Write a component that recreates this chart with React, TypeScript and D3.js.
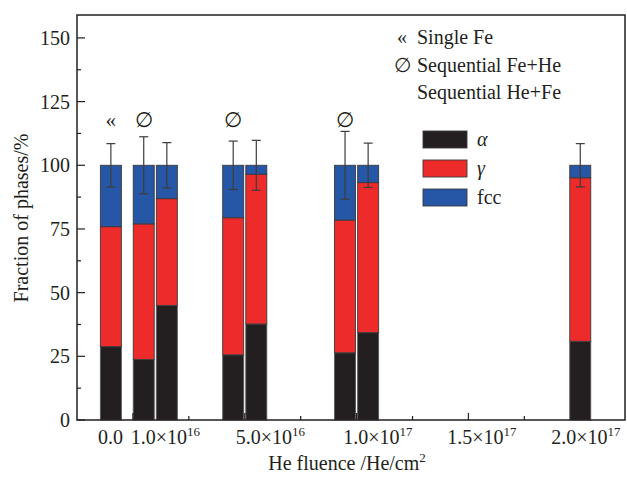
import React, { useRef, useEffect } from "react";
import * as d3 from "d3";

// one entry per bar, left to right
const samples = [
  "Single Fe",
  "Fe+He 1e16",
  "He+Fe 1e16",
  "Fe+He 5e16",
  "He+Fe 5e16",
  "Fe+He 1e17",
  "He+Fe 1e17",
  "He+Fe 2e17",
];
const fluence = [0, 1e16, 1e16, 5e16, 5e16, 1e17, 1e17, 2e17];
const route = ["single", "FeHe", "HeFe", "FeHe", "HeFe", "FeHe", "HeFe", "HeFe"];
const alpha = [28.8, 23.8, 45.0, 25.6, 37.7, 26.4, 34.3, 30.9];
const gamma = [47.1, 53.2, 41.9, 53.8, 58.8, 52.1, 58.9, 64.2];
const fcc = [24.1, 23.0, 13.1, 20.6, 3.5, 21.5, 6.8, 4.9];
const errors = [8.5, 11.2, 8.9, 9.5, 9.8, 13.3, 8.7, 8.5];

const phaseKeys = ["alpha", "gamma", "fcc"];
const phaseLabels = ["α", "γ", "fcc"];
const phaseColors = ["#231f20", "#ed2b2a", "#2656a6"];

const routeKeys = ["single", "FeHe", "HeFe"];
const routeLabels = ["Single Fe", "Sequential Fe+He", "Sequential He+Fe"];
const routeMarks = ["«", "∅", ""];

const yTicks = [0, 25, 50, 75, 100, 125, 150];
// x tick labels are hand placed in the original, "at" is where each one sits
const xLabelText = ["0.0", "1.0×10", "5.0×10", "1.0×10", "1.5×10", "2.0×10"];
const xLabelExp = ["", "16", "16", "17", "17", "17"];
const xLabelAt = [-1.0e16, 1.45e16, 6.15e16, 10.95e16, 15.6e16, 20.25e16];

const FONT = "Liberation Serif, Times New Roman, serif";

export default function App() {
  const svgRef = useRef<SVGSVGElement>(null);

  useEffect(() => {
    document.body.style.margin = "0";
    const width = 627;
    const height = 477;
    const left = 77,
      right = 625,
      top = 15,
      bottom = 420;

    const x = d3.scaleLinear().domain([-2.5e16, 2.2e17]).range([left, right]);
    const y = d3.scaleLinear().domain([0, 159]).range([bottom, top]);

    const svg = d3.select(svgRef.current);
    svg.selectAll("*").remove();
    svg.attr("width", width).attr("height", height).attr("font-family", FONT);

    const rows = samples.map((s, i) => ({
      sample: s,
      fluence: fluence[i],
      route: route[i],
      alpha: alpha[i],
      gamma: gamma[i],
      fcc: fcc[i],
      err: errors[i],
    }));

    const barW = 21;
    // side by side within a fluence group
    const slot = (d) => {
      if (d.route === "single") return -1.05;
      const same = rows.filter((r) => r.fluence === d.fluence).length;
      if (same === 1) return 0;
      return d.route === "FeHe" ? -0.55 : 0.55;
    };
    const cx = (d) => x(d.fluence) + slot(d) * barW;

    const stack = d3.stack().keys(phaseKeys)(rows);
    const color = d3.scaleOrdinal().domain(phaseKeys).range(phaseColors);

    // stacked bars
    svg
      .append("g")
      .selectAll("g")
      .data(stack)
      .join("g")
      .attr("fill", (s) => color(s.key))
      .attr("stroke", (s) => (s.key === "alpha" ? "#5a5a5a" : "#3a3a3a"))
      .attr("stroke-width", 0.9)
      .selectAll("rect")
      .data((s) => s)
      .join("rect")
      .attr("x", (d) => cx(d.data) - barW / 2)
      .attr("width", barW)
      .attr("y", (d) => y(d[1]))
      .attr("height", (d) => y(d[0]) - y(d[1]));

    // error bars on the total
    const eb = svg
      .append("g")
      .attr("stroke", "#3c3c3c")
      .attr("stroke-width", 1.2)
      .selectAll("g")
      .data(rows)
      .join("g");
    const total = (d) => d.alpha + d.gamma + d.fcc;
    eb.append("line")
      .attr("x1", (d) => cx(d))
      .attr("x2", (d) => cx(d))
      .attr("y1", (d) => y(total(d) + d.err))
      .attr("y2", (d) => y(total(d) - d.err));
    [1, -1].forEach((sgn) => {
      eb.append("line")
        .attr("x1", (d) => cx(d) - 4.5)
        .attr("x2", (d) => cx(d) + 4.5)
        .attr("y1", (d) => y(total(d) + sgn * d.err))
        .attr("y2", (d) => y(total(d) + sgn * d.err));
    });

    // route marks above the bars
    const markLevel = 115;
    svg
      .append("g")
      .selectAll("text")
      .data(rows.filter((d) => routeMarks[routeKeys.indexOf(d.route)] !== ""))
      .join("text")
      .attr("x", (d) => cx(d))
      .attr("y", y(markLevel))
      .attr("text-anchor", "middle")
      .attr("font-size", 21)
      .attr("fill", "#231f20")
      .text((d) => routeMarks[routeKeys.indexOf(d.route)]);

    // frame
    svg
      .append("rect")
      .attr("x", left)
      .attr("y", top)
      .attr("width", right - left)
      .attr("height", bottom - top)
      .attr("fill", "none")
      .attr("stroke", "#231f20")
      .attr("stroke-width", 1.5);

    // y axis
    const yAxis = svg.append("g").attr("stroke", "#231f20").attr("stroke-width", 1.2);
    d3.range(0, 151, 12.5).forEach((v) => {
      const major = v % 25 === 0;
      yAxis
        .append("line")
        .attr("x1", left)
        .attr("x2", left + (major ? 8 : 4))
        .attr("y1", y(v))
        .attr("y2", y(v));
    });
    svg
      .append("g")
      .selectAll("text")
      .data(yTicks)
      .join("text")
      .attr("x", left - 7)
      .attr("y", (d) => y(d) + 7)
      .attr("text-anchor", "end")
      .attr("font-size", 20)
      .attr("fill", "#231f20")
      .text((d) => d);

    // x axis
    const xAxis = svg.append("g").attr("stroke", "#231f20").attr("stroke-width", 1.2);
    d3.range(0, 2.2e17, 2.5e16).forEach((v, i) => {
      const major = i % 2 === 0;
      xAxis
        .append("line")
        .attr("x1", x(v))
        .attr("x2", x(v))
        .attr("y1", bottom)
        .attr("y2", bottom - (major ? 7 : 4));
    });
    const xl = svg
      .append("g")
      .selectAll("text")
      .data(xLabelText)
      .join("text")
      .attr("x", (d, i) => x(xLabelAt[i]))
      .attr("y", 444)
      .attr("text-anchor", "middle")
      .attr("font-size", 20)
      .attr("fill", "#231f20");
    xl.append("tspan").text((d) => d);
    xl.append("tspan")
      .attr("font-size", 13)
      .attr("dy", -8)
      .text((d, i) => xLabelExp[i]);

    // axis titles
    const xt = svg
      .append("text")
      .attr("x", 347)
      .attr("y", 470)
      .attr("text-anchor", "middle")
      .attr("font-size", 20)
      .attr("fill", "#231f20");
    xt.append("tspan").text("He fluence /He/cm");
    xt.append("tspan").attr("font-size", 13).attr("dy", -8).text("2");

    svg
      .append("text")
      .attr("transform", `translate(28,${218}) rotate(-90)`)
      .attr("text-anchor", "middle")
      .attr("font-size", 20)
      .attr("fill", "#231f20")
      .text("Fraction of phases/%");

    // route legend
    const rl = svg
      .append("g")
      .selectAll("g")
      .data(routeLabels)
      .join("g")
      .attr("transform", (d, i) => `translate(0,${44 + i * 27.5})`);
    rl.append("text")
      .attr("x", 402)
      .attr("text-anchor", "middle")
      .attr("font-size", 20)
      .attr("fill", "#231f20")
      .text((d, i) => routeMarks[i]);
    rl.append("text")
      .attr("x", 417)
      .attr("font-size", 20)
      .attr("fill", "#231f20")
      .text((d) => d);

    // phase legend
    const pl = svg
      .append("g")
      .selectAll("g")
      .data(phaseLabels)
      .join("g")
      .attr("transform", (d, i) => `translate(423,${131 + i * 29})`);
    pl.append("rect")
      .attr("width", 44)
      .attr("height", 17)
      .attr("fill", (d, i) => phaseColors[i])
      .attr("stroke", "#3a3a3a")
      .attr("stroke-width", 0.9);
    pl.append("text")
      .attr("x", 54)
      .attr("y", 15)
      .attr("font-size", 20)
      .attr("font-style", (d, i) => (i < 2 ? "italic" : "normal"))
      .attr("fill", "#231f20")
      .text((d) => d);
  }, []);

  return <svg ref={svgRef}></svg>;
}
